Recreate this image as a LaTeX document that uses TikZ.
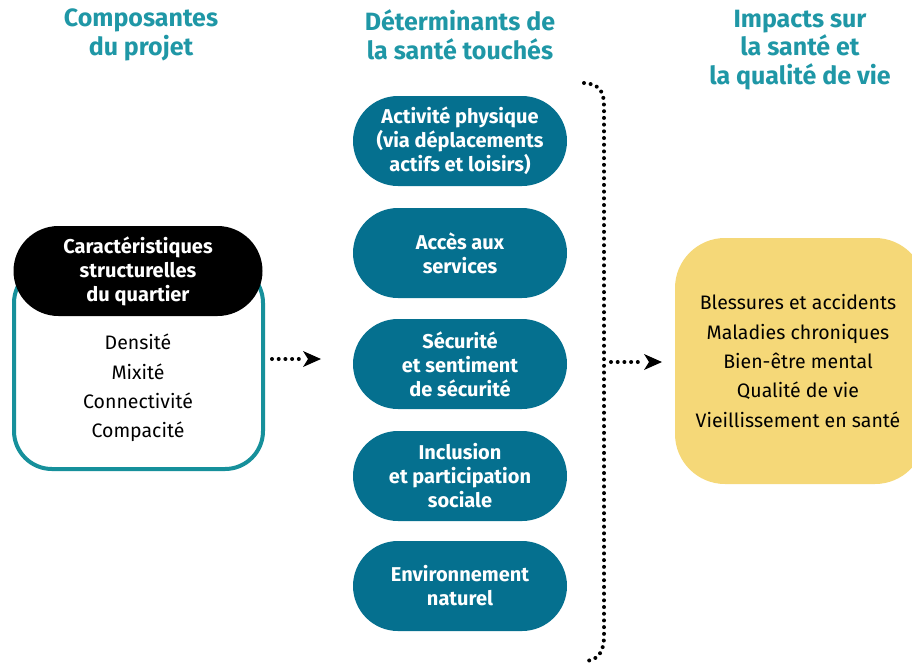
\documentclass[tikz,border=0pt]{standalone}
\usepackage{fontspec}
\setmainfont{Fira Sans}
\usetikzlibrary{arrows.meta}
\definecolor{headteal}{HTML}{1F97A6}
\definecolor{boxteal}{HTML}{16909B}
\definecolor{pillblue}{HTML}{05708F}
\definecolor{impyellow}{HTML}{F5D878}
\tikzset{
  head/.style={text=headteal, font=\fontsize{25}{28.5}\selectfont\bfseries, align=center},
  pill/.style={fill=pillblue, rounded corners=45pt, minimum width=214pt, minimum height=90pt, text=white, font=\fontsize{20}{24}\selectfont\bfseries, align=center, inner sep=0pt},
  dotline/.style={line width=4pt, line cap=round, dash pattern=on 0pt off 6.7pt},
  body/.style={font=\fontsize{19.5}{29.4}\selectfont, align=center, text=black}
}
\begin{document}
\begin{tikzpicture}[x=1pt,y=-1pt]
\useasboundingbox (0,0) rectangle (912,665);
% headings
\node[head] (h1) at (141,35) {Composantes\\du projet};
\node[head] (h2) at (460,35) {Déterminants de\\la santé touchés};
\node[head] (h3) at (800,50) {Impacts sur\\la santé et\\la qualité de vie};
% left box
\draw[boxteal, line width=4pt, rounded corners=38pt] (14,265) rectangle (263,469);
\node[fill=black, rounded corners=45pt, minimum width=249pt, minimum height=90pt, inner sep=0pt, text=white, font=\fontsize{20}{24}\selectfont\bfseries, align=center] (car) at (138,271) {Caractéristiques\\structurelles\\du quartier};
\node[body] (items) at (138,388) {Densité\\Mixité\\Connectivité\\Compacité};
% pills
\node[pill] (p1) at (460,141) {Activité physique\\(via déplacements\\actifs et loisirs)};
\node[pill] (p2) at (460,253) {Accès aux\\services};
\node[pill] (p3) at (460,364) {Sécurité\\et sentiment\\de sécurité};
\node[pill] (p4) at (460,476) {Inclusion\\et participation\\sociale};
\node[pill] (p5) at (460,586) {Environnement\\naturel};
% arrow left -> middle
\coordinate (a1s) at (272,359);
\coordinate (a1e) at (321,359);
\draw[dotline] (a1s) -- ++(30,0);
\fill[black] (a1e) -- ++(-18,-8) -- ++(5,8) -- ++(-5,8) -- cycle;
% brace
\coordinate (bt) at (584,83);
\coordinate (bb) at (586,661);
\draw[dotline] (bt) .. controls (600,84) and (604,92) .. (604,106) -- (604,636) .. controls (604,652) and (598,660) .. (bb);
% arrow brace -> yellow
\coordinate (a2s) at (611,362);
\coordinate (a2e) at (662,362);
\draw[dotline] (a2s) -- ++(30,0);
\fill[black] (a2e) -- ++(-18,-8) -- ++(5,8) -- ++(-5,8) -- cycle;
% yellow
\fill[impyellow, rounded corners=50pt] (675,238) rectangle (925,484);
\node[body] (imp) at (798,361) {Blessures et accidents\\Maladies chroniques\\Bien-être mental\\Qualité de vie\\Vieillissement en santé};
\end{tikzpicture}
\end{document}
